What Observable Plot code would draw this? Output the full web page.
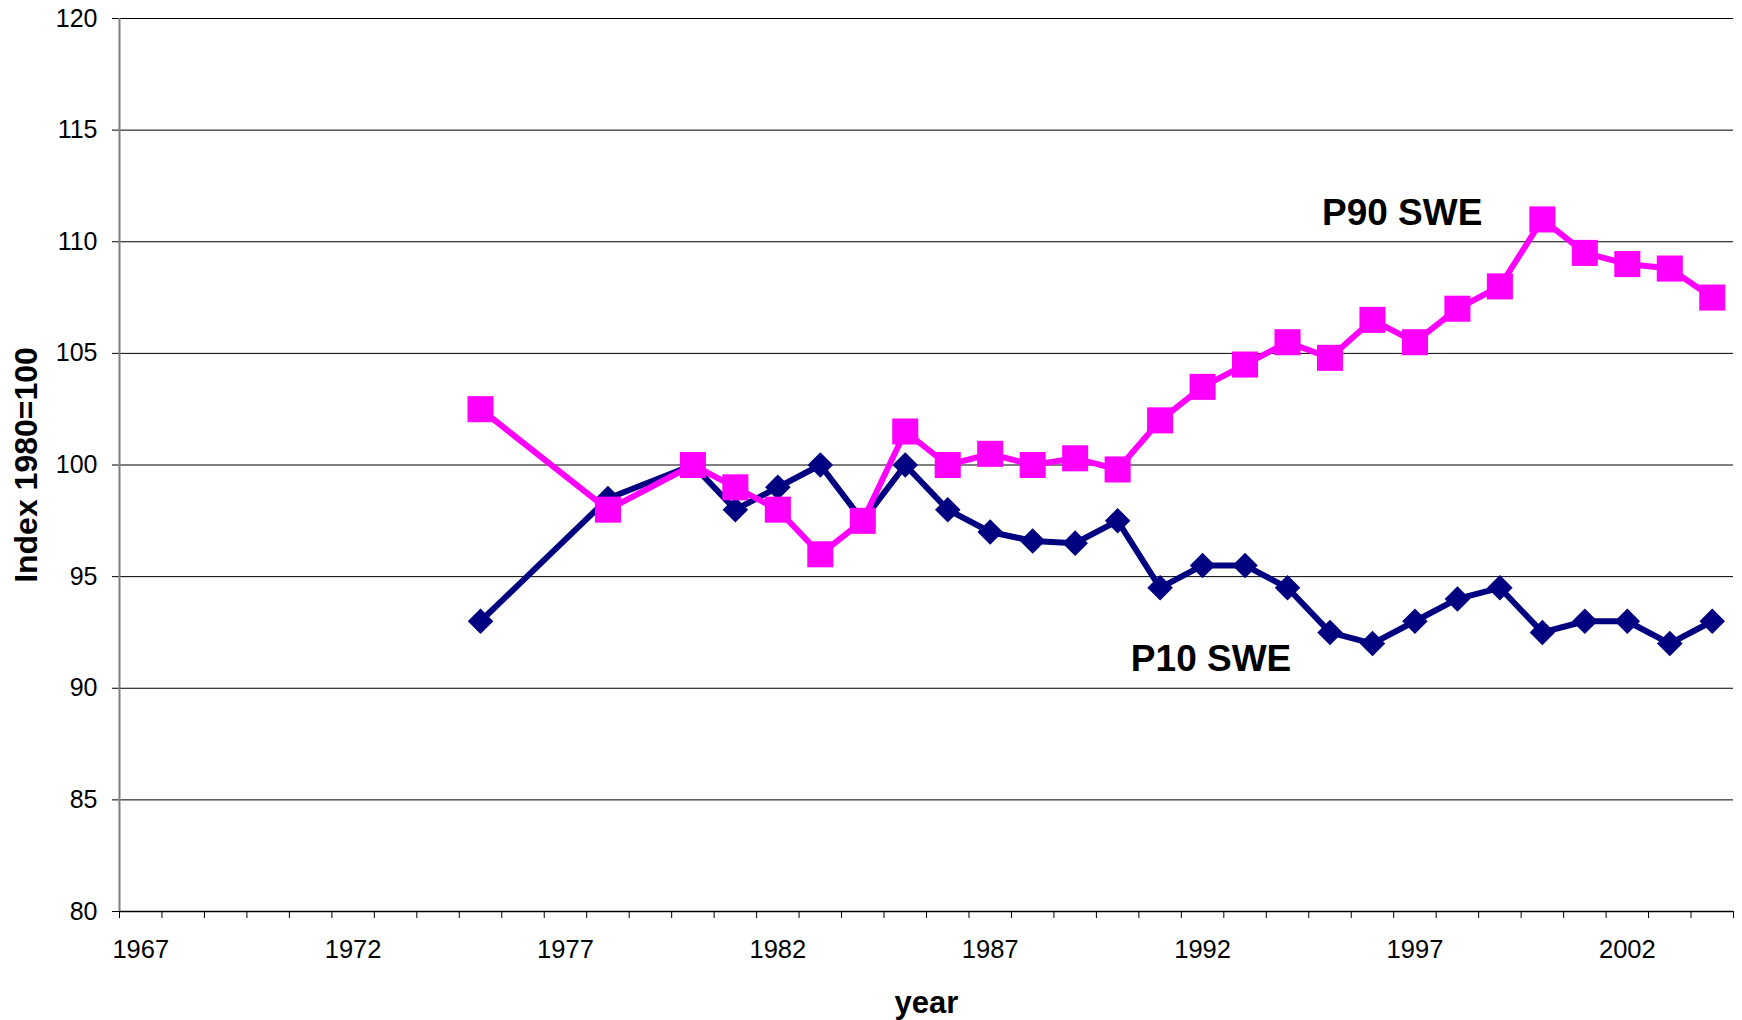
<!DOCTYPE html>
<html>
<head>
<meta charset="utf-8">
<script src="https://cdn.jsdelivr.net/npm/d3@7"></script>
<script src="https://cdn.jsdelivr.net/npm/@observablehq/plot@0.6"></script>
<style>
  html, body { margin: 0; padding: 0; background: #fff; }
  #chart svg { display: block; }
</style>
</head>
<body>
<div id="chart"></div>
<script>
// ---- data ----
const years = [1975, 1978, 1980, 1981, 1982, 1983, 1984, 1985, 1986, 1987, 1988, 1989, 1990,
  1991, 1992, 1993, 1994, 1995, 1996, 1997, 1998, 1999, 2000, 2001, 2002, 2003, 2004];
const p10 = [93, 98.5, 100, 98, 99, 100, 97.5, 100, 98, 97, 96.6, 96.5, 97.5,
  94.5, 95.5, 95.5, 94.5, 92.5, 92, 93, 94, 94.5, 92.5, 93, 93, 92, 93];
const p90 = [102.5, 98, 100, 99, 98, 96, 97.5, 101.5, 100, 100.5, 100, 100.3, 99.8,
  102, 103.5, 104.5, 105.5, 104.8, 106.5, 105.5, 107, 108, 111, 109.5, 109, 108.8, 107.5];
const xTickLabels = [1967, 1972, 1977, 1982, 1987, 1992, 1997, 2002];
const firstYear = 1967, lastYear = 2004;
const yTicks = [80, 85, 90, 95, 100, 105, 110, 115, 120];
const seriesNames = ["P10 SWE", "P90 SWE"];
const labelX = [1992.2, 1996.7];
const labelY = [91.3, 111.3];

// ---- derived tables ----
const rows10 = years.map((y, i) => ({year: y, value: p10[i]}));
const rows90 = years.map((y, i) => ({year: y, value: p90[i]}));
const boundaries = d3.range(firstYear - 0.5, lastYear + 1, 1);
const labels = seriesNames.map((t, i) => ({text: t, x: labelX[i], y: labelY[i]}));

const navy = "#000080", magenta = "#ff00ff";
const font = "'Liberation Sans', Arial, sans-serif";

const chart = Plot.plot({
  width: 1742,
  height: 1020,
  marginLeft: 119,
  marginRight: 9,
  marginTop: 18,
  marginBottom: 109,
  style: {fontFamily: font, background: "#fff", color: "#000"},
  x: {domain: [firstYear - 0.5, lastYear + 0.5]},
  y: {domain: [80, 120]},
  marks: [
    Plot.gridY(yTicks, {stroke: "#000", strokeOpacity: 1, strokeWidth: 1}),
    Plot.axisY({ticks: yTicks, tickSize: 7, tickPadding: 15, fontSize: 25, label: null,
      stroke: "#000", fill: "#000"}),
    Plot.axisX({ticks: boundaries, tickSize: 7, tickFormat: () => "", label: null, stroke: "#000"}),
    Plot.axisX({ticks: xTickLabels, tickSize: 0, tickPadding: 28, tickFormat: d => String(d),
      fontSize: 25.5, label: null, fill: "#000"}),
    Plot.ruleY([80], {stroke: "#000", strokeWidth: 1.5}),
    Plot.ruleX([firstYear - 0.5], {stroke: "#808080", strokeWidth: 2}),
    // P10 series
    Plot.line(rows10, {x: "year", y: "value", stroke: navy, strokeWidth: 6, strokeLinejoin: "miter"}),
    Plot.dot(rows10, {x: "year", y: "value", symbol: "diamond2", r: 11.5, fill: navy, stroke: "none"}),
    // P90 series
    Plot.line(rows90, {x: "year", y: "value", stroke: magenta, strokeWidth: 6, strokeLinejoin: "miter"}),
    Plot.dot(rows90, {x: "year", y: "value", symbol: "square", r: 14.7, fill: magenta, stroke: "none"}),
    // series labels
    Plot.text(labels, {x: "x", y: "y", text: "text", fontSize: 37, fontWeight: "bold", fill: "#000"}),
    // axis titles
    Plot.text(["year"], {frameAnchor: "bottom", lineAnchor: "bottom", textAnchor: "middle", dy: 101,
      text: d => d, fontSize: 31, fontWeight: "bold", fill: "#000"}),
    Plot.text(["Index 1980=100"], {frameAnchor: "left", textAnchor: "middle", lineAnchor: "middle",
      dx: -93, rotate: -90, text: d => d, fontSize: 32, fontWeight: "bold", fill: "#000"})
  ]
});
document.getElementById("chart").appendChild(chart);
</script>
</body>
</html>
